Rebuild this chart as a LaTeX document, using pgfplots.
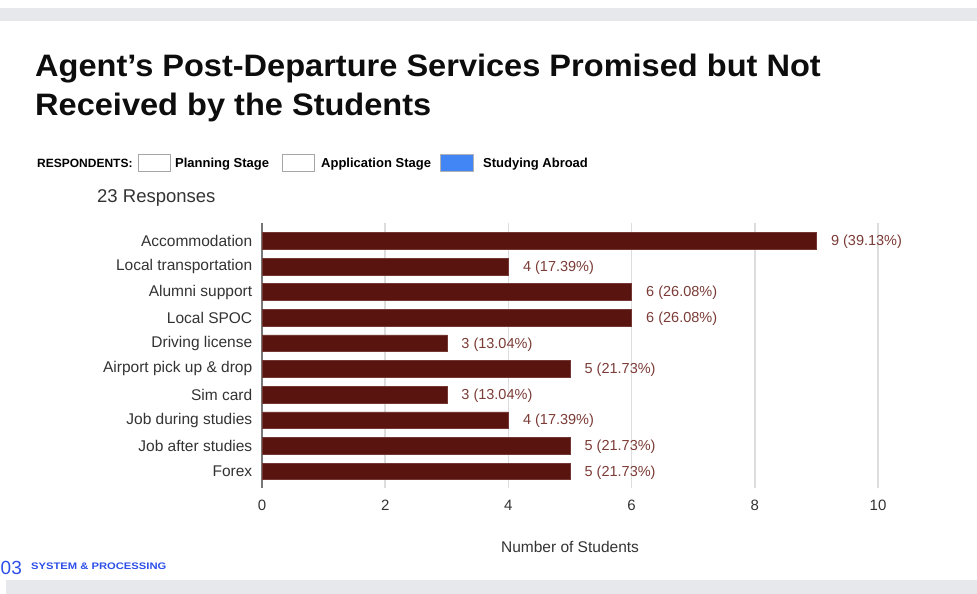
\documentclass[border=0pt]{standalone}
\usepackage{fontspec}
\setmainfont{Liberation Sans}
\newfontfamily\titlefont[FakeStretch=1.05]{Liberation Sans}
\newfontfamily\footfont[FakeStretch=1.18]{Liberation Sans}
\usepackage{pgfplots}
\pgfplotsset{compat=1.18}
\usepackage{pgfplotstable}
\definecolor{barcol}{HTML}{5A1410}
\definecolor{labcol}{HTML}{7B3B36}
\definecolor{txtcol}{HTML}{333333}
\definecolor{gridcol}{HTML}{DDDDDD}
\definecolor{axcol}{HTML}{777777}
\definecolor{legblue}{HTML}{4285F4}
\definecolor{footblue}{HTML}{2D4FE8}
\definecolor{band}{HTML}{E6E8EB}

\pgfplotstableread[col sep=comma]{
x,y,lab
9,0,9 (39.13\%)
4,1,4 (17.39\%)
6,2,6 (26.08\%)
6,3,6 (26.08\%)
3,4,3 (13.04\%)
5,5,5 (21.73\%)
3,6,3 (13.04\%)
4,7,4 (17.39\%)
5,8,5 (21.73\%)
5,9,5 (21.73\%)
}\datatable

\begin{document}
\begin{tikzpicture}
\path[use as bounding box] (0pt,0pt) rectangle (977pt,594pt);
% bands
\fill[band] (0pt,573pt) rectangle (977pt,586pt);
\fill[band] (6pt,0pt) rectangle (977pt,14pt);
% title
\node[anchor=base west, inner sep=0, font=\titlefont\bfseries\fontsize{31}{36}\selectfont, text=black!95] at (35pt,517pt) {Agent’s Post-Departure Services Promised but Not};
\node[anchor=base west, inner sep=0, font=\titlefont\bfseries\fontsize{31}{36}\selectfont, text=black!95] at (35pt,478pt) {Received by the Students};
% legend line
\node[anchor=base west, inner sep=0, font=\bfseries\fontsize{12}{14}\selectfont] at (37pt,426pt) {RESPONDENTS:};
\draw[gray!70, line width=0.8pt] (138pt,423pt) rectangle (170pt,440pt);
\node[anchor=base west, inner sep=0, font=\bfseries\fontsize{13}{14}\selectfont] at (175pt,426pt) {Planning Stage};
\draw[gray!70, line width=0.8pt] (282pt,423pt) rectangle (314pt,440pt);
\node[anchor=base west, inner sep=0, font=\bfseries\fontsize{13}{14}\selectfont] at (321pt,426pt) {Application Stage};
\fill[legblue] (440pt,423pt) rectangle (473pt,440pt);
\draw[gray!60, line width=0.5pt] (440pt,423pt) rectangle (473pt,440pt);
\node[anchor=base west, inner sep=0, font=\bfseries\fontsize{13}{14}\selectfont] at (483pt,426pt) {Studying Abroad};
% responses
\node[anchor=base west, inner sep=0, font=\fontsize{18.5}{20}\selectfont, text=txtcol] at (97pt,391pt) {23 Responses};
% footer
\node[anchor=base west, inner sep=0, font=\fontsize{19}{20}\selectfont, text=footblue] at (0.5pt,19pt) {03};
\node[anchor=base west, inner sep=0, font=\footfont\bfseries\fontsize{9.5}{10}\selectfont, text=footblue] at (31pt,24pt) {SYSTEM \& PROCESSING};

\begin{axis}[
  at={(262pt,106pt)}, anchor=south west,
  scale only axis, width=640.64pt, height=265pt,
  xmin=0, xmax=10.4, ymin=-0.70, ymax=9.65,
  y dir=reverse,
  xbar, bar width=16.7pt,
  axis x line*=bottom, axis y line*=left,
  x axis line style={draw=none},
  y axis line style={draw=axcol, line width=1.5pt},
  xtick={0,2,...,10}, ytick={0,...,9},
  yticklabels={Accommodation,Local transportation,Alumni support,Local SPOC,Driving license,Airport pick up \& drop,Sim card,Job during studies,Job after studies,Forex},
  major tick style={draw=none},
  xmajorgrids, grid style={draw=gridcol, line width=1.5pt},
  /pgf/number format/assume math mode=true,
  xticklabel style={font=\fontsize{15}{18}\selectfont, text=txtcol, text height=11pt, text depth=0pt, anchor=north, yshift=-8pt},
  yticklabel style={font=\fontsize{15.5}{18}\selectfont, text=txtcol, xshift=-2pt},
  xlabel={Number of Students},
  xlabel style={font=\fontsize{15.5}{18}\selectfont, text=txtcol, at={(axis description cs:0.4808,0)}, anchor=center, yshift=-59pt},
  nodes near coords, point meta=explicit symbolic,
  nodes near coords style={font=\fontsize{14.5}{17}\selectfont, text=labcol, anchor=west, xshift=11pt, yshift=-1pt},
  clip=false,
]
\addplot[fill=barcol, draw=barcol!85!white, line width=0.6pt] table[x=x, y=y, meta=lab] {\datatable};
\end{axis}
\end{tikzpicture}
\end{document}
